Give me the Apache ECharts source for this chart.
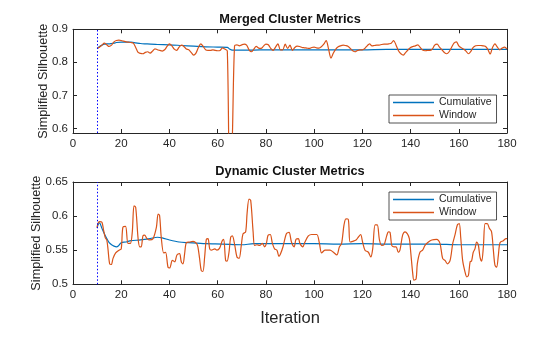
<!DOCTYPE html>
<html>
<head>
<meta charset="utf-8">
<script src="https://cdn.jsdelivr.net/npm/echarts@6/dist/echarts.min.js"></script>
<style>
  html, body { margin: 0; padding: 0; background: #fff; }
  #chart { width: 560px; height: 337px; }
</style>
</head>
<body>
<div id="chart"></div>
<script>
// ---- Merged cluster metrics (top panel) ----
const mergedCumIter = [10, 11, 12, 13, 14, 15, 16, 17, 18, 20, 22, 24, 26, 28, 30, 35, 40, 45, 50, 55, 60, 64, 65, 66, 68, 75, 80, 90, 100, 110, 120, 130, 140, 150, 160, 170, 180];
const mergedCumVal  = [0.842, 0.848, 0.852, 0.855, 0.856, 0.856, 0.857, 0.858, 0.860, 0.861, 0.861, 0.861, 0.859, 0.857, 0.856, 0.854, 0.853, 0.851, 0.849, 0.847, 0.846, 0.845, 0.840, 0.837, 0.837, 0.837, 0.838, 0.838, 0.838, 0.838, 0.838, 0.839, 0.839, 0.839, 0.839, 0.839, 0.839];

const mergedWinIter = [10, 11, 12, 13, 14, 15, 16, 17, 18, 19, 20, 21, 22, 23, 24, 25, 26, 27, 28, 29, 30, 31, 32, 33, 34, 35, 36, 37, 38, 39, 40, 41, 42, 43, 44, 45, 46, 47, 48, 49, 50, 51, 52, 53, 54, 55, 56, 57, 58, 59, 60, 61, 62, 63, 64, 65, 66, 67, 68, 69, 70, 71, 72, 73, 74, 75, 76, 77, 78, 79, 80, 81, 82, 83, 84, 85, 86, 87, 88, 89, 90, 91, 92, 93, 94, 95, 96, 97, 98, 99, 100, 101, 102, 103, 104, 105, 106, 107, 108, 109, 110, 111, 112, 113, 114, 115, 116, 117, 118, 119, 120, 121, 122, 123, 124, 125, 126, 127, 128, 129, 130, 131, 132, 133, 134, 135, 136, 137, 138, 139, 140, 141, 142, 143, 144, 145, 146, 147, 148, 149, 150, 151, 152, 153, 154, 155, 156, 157, 158, 159, 160, 161, 162, 163, 164, 165, 166, 167, 168, 169, 170, 171, 172, 173, 174, 175, 176, 177, 178, 179, 180];
const mergedWinVal  = [0.842, 0.846, 0.852, 0.858, 0.853, 0.848, 0.852, 0.862, 0.866, 0.867, 0.866, 0.864, 0.862, 0.861, 0.860, 0.858, 0.845, 0.830, 0.827, 0.826, 0.830, 0.832, 0.828, 0.834, 0.841, 0.838, 0.836, 0.834, 0.838, 0.848, 0.856, 0.850, 0.840, 0.836, 0.846, 0.852, 0.848, 0.840, 0.838, 0.830, 0.822, 0.828, 0.845, 0.856, 0.848, 0.838, 0.836, 0.836, 0.838, 0.836, 0.835, 0.836, 0.844, 0.840, 0.834, 0.420, 0.550, 0.850, 0.853, 0.850, 0.853, 0.855, 0.852, 0.838, 0.832, 0.840, 0.848, 0.843, 0.842, 0.849, 0.855, 0.853, 0.842, 0.836, 0.846, 0.856, 0.838, 0.838, 0.855, 0.842, 0.852, 0.836, 0.845, 0.849, 0.848, 0.845, 0.844, 0.843, 0.842, 0.845, 0.846, 0.844, 0.843, 0.847, 0.855, 0.866, 0.840, 0.813, 0.828, 0.840, 0.847, 0.850, 0.852, 0.851, 0.849, 0.842, 0.835, 0.832, 0.836, 0.838, 0.838, 0.842, 0.850, 0.856, 0.850, 0.851, 0.852, 0.852, 0.854, 0.855, 0.855, 0.856, 0.858, 0.866, 0.852, 0.835, 0.826, 0.822, 0.830, 0.838, 0.845, 0.848, 0.850, 0.853, 0.845, 0.837, 0.835, 0.836, 0.836, 0.840, 0.852, 0.855, 0.846, 0.838, 0.830, 0.826, 0.832, 0.845, 0.858, 0.862, 0.850, 0.844, 0.840, 0.834, 0.826, 0.833, 0.845, 0.850, 0.851, 0.851, 0.850, 0.849, 0.840, 0.825, 0.845, 0.856, 0.846, 0.838, 0.843, 0.846, 0.840];

// ---- Dynamic cluster metrics (bottom panel) ----
const dynCumIter = [10, 10.5, 11, 12, 13, 14, 15, 16, 17, 18, 19, 20, 22, 24, 28, 32, 35, 37, 40, 44, 48, 55, 62, 70, 75, 80, 90, 100, 110, 120, 130, 140, 150, 160, 170, 180];
const dynCumVal  = [0.583, 0.588, 0.590, 0.582, 0.574, 0.567, 0.561, 0.558, 0.556, 0.555, 0.557, 0.561, 0.562, 0.564, 0.565, 0.567, 0.569, 0.568, 0.565, 0.562, 0.561, 0.5595, 0.559, 0.558, 0.5595, 0.5595, 0.5595, 0.5595, 0.559, 0.5595, 0.559, 0.559, 0.559, 0.558, 0.558, 0.558];

const dynWinIter = [10, 10.3, 11, 12, 12.7, 13.4, 14, 14.5, 15.2, 15.9, 16.6, 17.7, 19.1, 20, 20.7, 21.8, 22.8, 23.8, 24.6, 25.3, 26, 27, 27.7, 28.3, 29, 29.7, 30.7, 31.8, 33.2, 34.6, 35.3, 35.9, 36.6, 37.6, 38.4, 39.4, 40.1, 41.2, 42.2, 43.1, 44.2, 44.9, 45.6, 46.3, 47, 48.4, 49.8, 51.2, 51.8, 52.5, 53.2, 53.9, 54.6, 55.3, 56, 56.7, 57.4, 58.8, 59.7, 60.8, 61.9, 62.5, 63.3, 63.9, 64.7, 65.4, 66.1, 67.1, 68, 68.9, 69.8, 70.5, 71.6, 72.2, 73, 73.7, 74.7, 75.3, 76.3, 77.4, 78.5, 79.5, 80.2, 80.9, 81.8, 82.7, 83.6, 84.6, 85.4, 86, 87.1, 88.5, 89.6, 90.6, 91.7, 92.5, 93.5, 94.1, 95.3, 96.2, 97.6, 99, 101.1, 102.2, 103.1, 104.5, 106.6, 108, 109.4, 110.5, 111.4, 112.4, 113.2, 114.2, 114.9, 116, 117.4, 118.3, 119.3, 120.1, 121.1, 122.5, 123.5, 124.3, 125.3, 126.2, 127.1, 128, 129, 130.1, 130.8, 131.5, 132.2, 133.1, 134, 134.9, 135.6, 136.7, 137.7, 138.7, 139.5, 140, 140.9, 141.4, 142.3, 142.8, 143.9, 145, 146, 147.4, 148.8, 150.8, 152.2, 153.3, 154.3, 155.3, 156.4, 157.5, 158.4, 159.4, 160.2, 160.8, 161.6, 162.6, 163.3, 164, 164.7, 165.3, 166, 166.7, 167.4, 168.1, 168.8, 169.5, 170.2, 170.9, 171.8, 172.7, 173.6, 174.3, 175, 175.7, 176.4, 177.1, 178.5, 179.6, 180];
const dynWinVal  = [0.583, 0.589, 0.592, 0.591, 0.579, 0.568, 0.565, 0.552, 0.530, 0.529, 0.538, 0.546, 0.550, 0.552, 0.584, 0.585, 0.560, 0.560, 0.577, 0.615, 0.613, 0.567, 0.555, 0.555, 0.571, 0.572, 0.567, 0.565, 0.567, 0.584, 0.603, 0.601, 0.569, 0.546, 0.547, 0.525, 0.524, 0.535, 0.533, 0.543, 0.545, 0.533, 0.530, 0.545, 0.561, 0.562, 0.563, 0.560, 0.555, 0.538, 0.520, 0.519, 0.540, 0.566, 0.567, 0.552, 0.550, 0.552, 0.550, 0.553, 0.564, 0.566, 0.535, 0.534, 0.547, 0.569, 0.571, 0.557, 0.540, 0.538, 0.557, 0.574, 0.577, 0.604, 0.625, 0.623, 0.577, 0.557, 0.558, 0.557, 0.560, 0.555, 0.560, 0.572, 0.573, 0.560, 0.552, 0.550, 0.541, 0.544, 0.555, 0.574, 0.576, 0.562, 0.555, 0.566, 0.567, 0.560, 0.555, 0.562, 0.571, 0.573, 0.573, 0.560, 0.546, 0.550, 0.550, 0.547, 0.543, 0.555, 0.560, 0.587, 0.596, 0.595, 0.562, 0.563, 0.565, 0.569, 0.573, 0.562, 0.550, 0.547, 0.540, 0.552, 0.587, 0.587, 0.565, 0.557, 0.558, 0.571, 0.577, 0.576, 0.557, 0.555, 0.555, 0.547, 0.550, 0.572, 0.577, 0.574, 0.567, 0.550, 0.516, 0.506, 0.508, 0.530, 0.547, 0.550, 0.557, 0.562, 0.565, 0.566, 0.560, 0.538, 0.535, 0.530, 0.535, 0.560, 0.572, 0.587, 0.589, 0.569, 0.535, 0.518, 0.511, 0.513, 0.533, 0.534, 0.547, 0.552, 0.562, 0.558, 0.540, 0.534, 0.555, 0.589, 0.589, 0.582, 0.577, 0.552, 0.528, 0.525, 0.542, 0.561, 0.564, 0.567, 0.567];

// Iteration at which the window metric starts (dotted marker)
const startIteration = 10;

// Axis ranges and tick values
const xRange = [0, 180];
const xStep = 20;
const mergedYRange = [0.586, 0.9];
const mergedYTicks = [0.6, 0.7, 0.8, 0.9];
const dynYRange = [0.5, 0.65];
const dynYTicks = [0.5, 0.55, 0.6, 0.65];

const titles = ['Merged Cluster Metrics', 'Dynamic Cluster Metrics'];
const seriesNames = ['Cumulative', 'Window'];
const yTitle = 'Simplified Silhouette';
const xTitle = 'Iteration';

// ---- styling ----
const FONT = '"Liberation Sans", Arial, Helvetica, sans-serif';
const INK = '#262626';
const BLUE = '#0072BD';
const ORANGE = '#D95319';

function pairs(xs, ys) { return xs.map((x, i) => [x, ys[i]]); }

function xAxisDef(grid, pos, withLabels, name) {
  return {
    type: 'value', gridIndex: grid, position: pos,
    min: xRange[0], max: xRange[1], interval: xStep,
    axisLine: { show: true, onZero: false, lineStyle: { color: INK, width: 1 } },
    axisTick: { show: true, inside: true, length: 4, lineStyle: { color: INK, width: 1 } },
    axisLabel: { show: withLabels, color: INK, fontSize: 11.5, fontFamily: FONT, margin: 5 },
    splitLine: { show: false },
    name: name || '', nameLocation: 'middle', nameGap: 26, nameMoveOverlap: false,
    nameTextStyle: { color: INK, fontSize: 16.5, fontFamily: FONT }
  };
}

function yAxisDef(grid, pos, range, ticks, withLabels, gap) {
  return {
    type: 'value', gridIndex: grid, position: pos,
    min: range[0], max: range[1],
    axisLine: { show: true, onZero: false, lineStyle: { color: INK, width: 1 } },
    axisTick: { show: true, inside: true, length: 4, customValues: ticks, lineStyle: { color: INK, width: 1 } },
    axisLabel: { show: withLabels, customValues: ticks, color: INK, fontSize: 11.5, fontFamily: FONT, margin: 5,
                 formatter: v => String(+v.toFixed(2)) },
    splitLine: { show: false },
    name: withLabels ? yTitle : '', nameLocation: 'middle', nameGap: gap || 0, nameMoveOverlap: false,
    nameTextStyle: { color: INK, fontSize: 12.7, fontFamily: FONT }
  };
}

function lineSeries(name, xi, yi, data, color, withMarker) {
  const s = {
    name, type: 'line', xAxisIndex: xi, yAxisIndex: yi,
    data, symbol: 'none', showSymbol: false, clip: true, smooth: 0.3,
    lineStyle: { color, width: 1.2 }, itemStyle: { color },
    emphasis: { disabled: true }
  };
  if (withMarker) {
    s.markLine = {
      silent: true, symbol: ['none', 'none'], label: { show: false },
      lineStyle: { color: '#0000ff', type: [1.5, 2], width: 1 },
      emphasis: { disabled: true },
      data: [{ xAxis: startIteration }]
    };
  }
  return s;
}

function legendDef(top) {
  return {
    orient: 'vertical', left: 389, top,
    data: seriesNames.map(n => ({ name: n, icon: 'rect' })),
    itemWidth: 41, itemHeight: 1.3, itemGap: 0, itemTextGap: 4,
    padding: [1, 5, 1, 4],
    backgroundColor: '#ffffff', borderColor: INK, borderWidth: 0.8, borderRadius: 0,
    textStyle: { color: INK, fontSize: 10.5, fontFamily: FONT, lineHeight: 13 },
    selectedMode: false
  };
}

const chart = echarts.init(document.getElementById('chart'), null, { renderer: 'canvas' });
chart.setOption({
  animation: false,
  backgroundColor: '#ffffff',
  title: [
    { text: titles[0], left: 290, top: 13, textAlign: 'center', padding: 0,
      textStyle: { fontSize: 12.8, fontWeight: 'bold', color: '#111', fontFamily: FONT } },
    { text: titles[1], left: 290, top: 165, textAlign: 'center', padding: 0,
      textStyle: { fontSize: 12.8, fontWeight: 'bold', color: '#111', fontFamily: FONT } }
  ],
  legend: [legendDef(95), legendDef(192)],
  grid: [
    { left: 73, top: 29.3, width: 434, height: 103.7 },
    { left: 73, top: 182, width: 434, height: 102.3 }
  ],
  xAxis: [
    xAxisDef(0, 'bottom', true),
    xAxisDef(0, 'top', false),
    xAxisDef(1, 'bottom', true, xTitle),
    xAxisDef(1, 'top', false)
  ],
  yAxis: [
    yAxisDef(0, 'left', mergedYRange, mergedYTicks, true, 23),
    yAxisDef(0, 'right', mergedYRange, mergedYTicks, false),
    yAxisDef(1, 'left', dynYRange, dynYTicks, true, 30),
    yAxisDef(1, 'right', dynYRange, dynYTicks, false)
  ],
  series: [
    lineSeries(seriesNames[0], 0, 0, pairs(mergedCumIter, mergedCumVal), BLUE, true),
    lineSeries(seriesNames[1], 0, 0, pairs(mergedWinIter, mergedWinVal), ORANGE, false),
    lineSeries(seriesNames[0], 2, 2, pairs(dynCumIter, dynCumVal), BLUE, true),
    lineSeries(seriesNames[1], 2, 2, pairs(dynWinIter, dynWinVal), ORANGE, false)
  ]
});
</script>
</body>
</html>
